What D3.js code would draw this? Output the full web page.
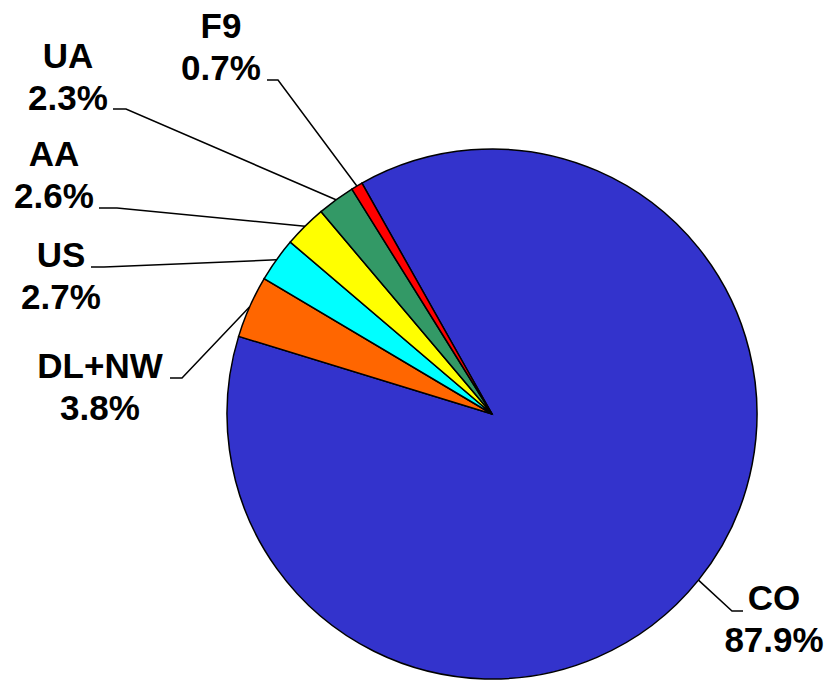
<!DOCTYPE html>
<meta charset="utf-8">
<style>
body { margin: 0; background: #fff; }
.slice { stroke: #000; stroke-width: 1.5px; }
.leader { fill: none; stroke: #000; stroke-width: 1.5px; }
.lbl { font-family: "Liberation Sans", Arial, sans-serif; font-weight: bold; font-size: 35px; fill: #000; }
</style>
<body>
<script src="https://cdn.jsdelivr.net/npm/d3@7"></script>
<script>

// data
var carriers = ["CO", "DL+NW", "US", "AA", "UA", "F9"];
var shares = [87.9, 3.8, 2.7, 2.6, 2.3, 0.7];
var colors = ["#3333CC", "#FF6600", "#00FFFF", "#FFFF00", "#339966", "#FF0000"];

// label placement (text centre x, first baseline y, elbow point, line end)
var labelPos = {
  "CO":    {tx: 774, ty: 610, ex: 732, ey: 611, lx: 743},
  "DL+NW": {tx: 100, ty: 378, ex: 182, ey: 378, lx: 170},
  "US":    {tx: 61,  ty: 267, ex: 104, ey: 267, lx: 91},
  "AA":    {tx: 54,  ty: 166, ex: 117, ey: 208, lx: 99},
  "UA":    {tx: 68,  ty: 68,  ex: 126, ey: 109, lx: 113},
  "F9":    {tx: 221, ty: 38,  ex: 278, ey: 80,  lx: 267}
};

var width = 828, height = 681,
    cx = 492, cy = 414, radius = 265;

var svg = d3.select("body").append("svg")
    .attr("width", width)
    .attr("height", height);

var data = carriers.map(function(c, i) { return {name: c, value: shares[i], color: colors[i]}; });

// CO starts just after F9, going clockwise
var start = -29.4 * Math.PI / 180;
var pie = d3.pie()
    .sort(null)
    .value(function(d) { return d.value; })
    .startAngle(start)
    .endAngle(start + 2 * Math.PI);

var arc = d3.arc().innerRadius(0).outerRadius(radius);
var edge = d3.arc().innerRadius(radius).outerRadius(radius);

var g = svg.append("g")
    .attr("transform", "translate(" + cx + "," + cy + ")");

var arcs = pie(data);

g.selectAll("path.slice")
    .data(arcs)
  .enter().append("path")
    .attr("class", "slice")
    .attr("fill", function(d) { return d.data.color; })
    .attr("d", arc);

// leader lines
svg.selectAll("path.leader")
    .data(arcs)
  .enter().append("path")
    .attr("class", "leader")
    .attr("d", function(d) {
      var p = edge.centroid(d), lp = labelPos[d.data.name];
      return "M" + (p[0] + cx) + "," + (p[1] + cy) +
             "L" + lp.ex + "," + lp.ey + "L" + lp.lx + "," + lp.ey;
    });

// labels
var lbl = svg.selectAll("text.lbl")
    .data(arcs)
  .enter().append("text")
    .attr("class", "lbl")
    .attr("text-anchor", "middle")
    .attr("x", function(d) { return labelPos[d.data.name].tx; })
    .attr("y", function(d) { return labelPos[d.data.name].ty; });

lbl.append("tspan")
    .attr("x", function(d) { return labelPos[d.data.name].tx; })
    .text(function(d) { return d.data.name; });
lbl.append("tspan")
    .attr("x", function(d) { return labelPos[d.data.name].tx; })
    .attr("dy", 42)
    .text(function(d) { return d3.format(".1f")(d.data.value) + "%"; });

</script>
</body>
